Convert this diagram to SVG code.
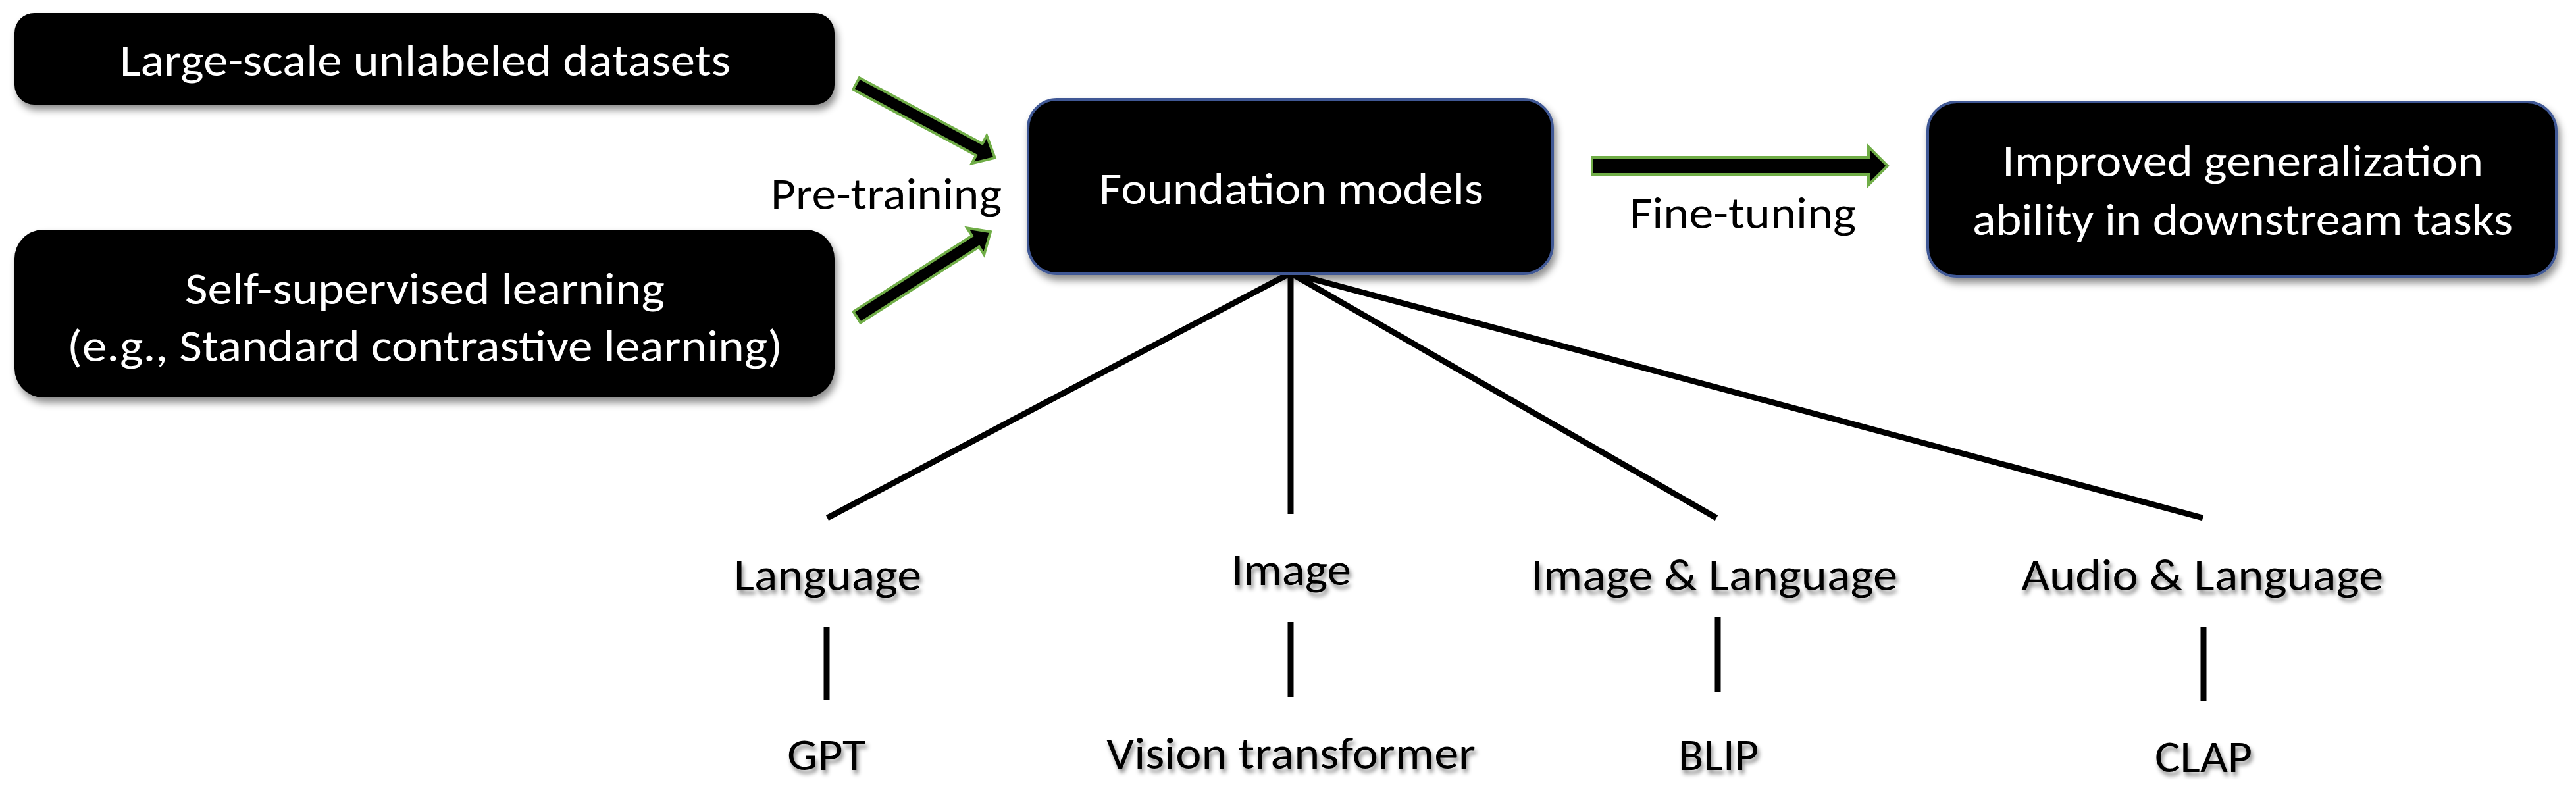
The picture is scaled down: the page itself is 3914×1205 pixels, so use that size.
<svg xmlns="http://www.w3.org/2000/svg" width="3914" height="1205" viewBox="0 0 3914 1205">
<defs>
<filter id="boxShadow" x="-5%" y="-10%" width="112%" height="130%">
<feDropShadow dx="4" dy="8" stdDeviation="6" flood-color="#000" flood-opacity="0.45"/>
</filter>
<filter id="textShadow" x="-10%" y="-20%" width="120%" height="150%">
<feDropShadow dx="3" dy="6" stdDeviation="3" flood-color="#000" flood-opacity="0.45"/>
</filter>
<style>
.box{fill:#000;}
.blue{stroke:#3F5895;stroke-width:4;}
.wt{fill:#fff;font-family:Carlito,Lato,"Liberation Sans",sans-serif;font-size:67px;text-anchor:middle;}
.bt{fill:#000;font-family:Carlito,Lato,"Liberation Sans",sans-serif;font-size:67px;text-anchor:middle;}
.arrow{fill:#000;stroke:#70AD47;stroke-width:4;stroke-linejoin:miter;}
.line{stroke:#000;stroke-width:9;fill:none;}
</style>
</defs>
<rect width="3914" height="1205" fill="#fff"/>

<g id="connectors">
<path class="arrow" d="M0,-10 L212,-10 L212,-24 L239,0 L212,24 L212,10 L0,10 Z" transform="translate(1301,127) rotate(28.2)"/>
<path class="arrow" d="M0,-10 L214,-10 L214,-24 L241,0 L214,24 L214,10 L0,10 Z" transform="translate(1302,482) rotate(-32.6)"/>
<path class="arrow" d="M0,-13 L420,-13 L420,-29 L449,0 L420,29 L420,13 L0,13 Z" transform="translate(2419,252)"/>
<line class="line" x1="1961" y1="415" x2="1257" y2="787"/>
<line class="line" x1="1961" y1="415" x2="1961" y2="781"/>
<line class="line" x1="1961" y1="415" x2="2608" y2="787"/>
<line class="line" x1="1961" y1="415" x2="3347" y2="787"/>
<line class="line" x1="1256" y1="952" x2="1256" y2="1063"/>
<line class="line" x1="1961" y1="945" x2="1961" y2="1059"/>
<line class="line" x1="2610" y1="937" x2="2610" y2="1052"/>
<line class="line" x1="3348" y1="952" x2="3348" y2="1065"/>
</g>

<g id="node-datasets">
<rect class="box" x="22" y="20" width="1246" height="139" rx="30" ry="30" filter="url(#boxShadow)"/>
<text class="wt" x="646" y="115" textLength="928" lengthAdjust="spacingAndGlyphs">Large-scale unlabeled datasets</text>
</g>

<g id="node-ssl">
<rect class="box" x="22" y="349" width="1246" height="255" rx="44" ry="44" filter="url(#boxShadow)"/>
<text class="wt" x="645.5" y="462" textLength="729" lengthAdjust="spacingAndGlyphs">Self-supervised learning</text>
<text class="wt" x="645.5" y="549" textLength="1087" lengthAdjust="spacingAndGlyphs">(e.g., Standard contrastive learning)</text>
</g>

<g id="label-pretraining">
<text class="bt" x="1346.5" y="318" textLength="351" lengthAdjust="spacingAndGlyphs">Pre-training</text>
</g>

<g id="node-foundation">
<rect class="box blue" x="1562" y="151" width="797" height="265" rx="44" ry="44" filter="url(#boxShadow)"/>
<text class="wt" x="1962" y="310" textLength="584" lengthAdjust="spacingAndGlyphs">Foundation models</text>
</g>

<g id="label-finetuning">
<text class="bt" x="2648" y="347" textLength="344" lengthAdjust="spacingAndGlyphs">Fine-tuning</text>
</g>

<g id="node-improved">
<rect class="box blue" x="2929" y="155" width="955" height="265" rx="44" ry="44" filter="url(#boxShadow)"/>
<text class="wt" x="3407.5" y="268" textLength="731" lengthAdjust="spacingAndGlyphs">Improved generalization</text>
<text class="wt" x="3407.5" y="357" textLength="821" lengthAdjust="spacingAndGlyphs">ability in downstream tasks</text>
</g>

<g id="node-language" filter="url(#textShadow)">
<text class="bt" x="1257.5" y="897" textLength="285" lengthAdjust="spacingAndGlyphs">Language</text>
</g>
<g id="node-image" filter="url(#textShadow)">
<text class="bt" x="1962" y="889" textLength="182" lengthAdjust="spacingAndGlyphs">Image</text>
</g>
<g id="node-image-language" filter="url(#textShadow)">
<text class="bt" x="2604.5" y="897" textLength="557" lengthAdjust="spacingAndGlyphs">Image &amp; Language</text>
</g>
<g id="node-audio-language" filter="url(#textShadow)">
<text class="bt" x="3346" y="897" textLength="550" lengthAdjust="spacingAndGlyphs">Audio &amp; Language</text>
</g>
<g id="node-gpt" filter="url(#textShadow)">
<text class="bt" x="1256" y="1170" textLength="120" lengthAdjust="spacingAndGlyphs">GPT</text>
</g>
<g id="node-vit" filter="url(#textShadow)">
<text class="bt" x="1961.5" y="1168" textLength="561" lengthAdjust="spacingAndGlyphs">Vision transformer</text>
</g>
<g id="node-blip" filter="url(#textShadow)">
<text class="bt" x="2611" y="1170" textLength="122" lengthAdjust="spacingAndGlyphs">BLIP</text>
</g>
<g id="node-clap" filter="url(#textShadow)">
<text class="bt" x="3348" y="1173" textLength="148" lengthAdjust="spacingAndGlyphs">CLAP</text>
</g>
</svg>
